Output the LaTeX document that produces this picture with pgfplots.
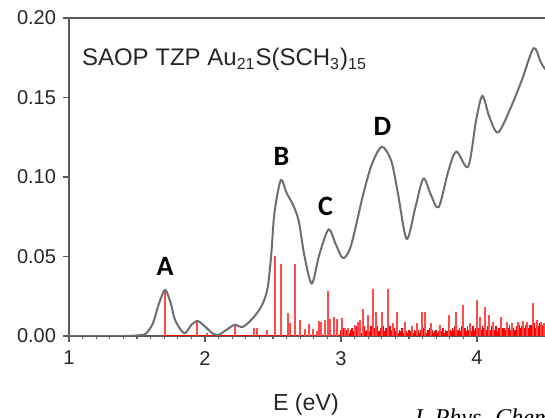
\documentclass[border=0pt]{standalone}
\usepackage{fontspec}
\setmainfont{Liberation Sans}
\newfontfamily\peakfont{Carlito}
\newfontfamily\citefont{Liberation Serif}
\usepackage{pgfplots}
\usepackage{pgfplotstable}
\pgfplotsset{compat=1.18}
\usetikzlibrary{calc}

\definecolor{curvegray}{RGB}{110,110,110}
\definecolor{axisgray}{RGB}{90,90,90}
\definecolor{stickred}{RGB}{255,75,75}

% broadened spectrum
\pgfplotstableread{
E I
1.00 0
1.40 0
1.52 0.0005
1.566 0.0015
1.617 0.008
1.66 0.020
1.707 0.029
1.75 0.020
1.78 0.010
1.847 0.0017
1.90 0.007
1.944 0.0095
2.00 0.006
2.05 0.002
2.097 0.0006
2.16 0.004
2.218 0.007
2.28 0.0058
2.36 0.012
2.42 0.0196
2.46 0.030
2.487 0.051
2.51 0.077
2.557 0.098
2.60 0.090
2.65 0.082
2.69 0.072
2.73 0.051
2.785 0.033
2.84 0.051
2.908 0.067
2.96 0.058
3.015 0.049
3.074 0.057
3.163 0.089
3.227 0.108
3.30 0.119
3.37 0.110
3.42 0.089
3.483 0.061
3.547 0.081
3.606 0.099
3.66 0.089
3.718 0.081
3.79 0.104
3.848 0.116
3.935 0.1065
3.994 0.136
4.04 0.151
4.09 0.138
4.155 0.128
4.25 0.144
4.33 0.161
4.416 0.181
4.467 0.1726
4.50 0.168
4.55 0.166
}\curve

% strong oscillator strengths
\pgfplotstableread{
E f
1.707 0.029
1.944 0.0095
2.015 0.002
2.218 0.007
2.358 0.005
2.385 0.005
2.454 0.004
2.515 0.050
2.560 0.045
2.610 0.0143
2.625 0.008
2.664 0.045
2.700 0.010
2.735 0.0045
2.767 0.0074
2.797 0.0045
2.820 0.003
2.840 0.0095
2.856 0.009
2.880 0.010
2.902 0.028
2.920 0.011
2.950 0.0117
2.968 0.011
3.005 0.0116
3.030 0.005
3.055 0.005
3.100 0.007
3.125 0.009
3.140 0.010
3.164 0.017
3.200 0.013
3.238 0.0295
3.260 0.0154
3.300 0.0148
3.343 0.0295
3.380 0.008
3.410 0.0154
3.470 0.009
3.520 0.006
3.560 0.008
3.593 0.0154
3.617 0.0154
3.660 0.008
3.730 0.007
3.794 0.0129
3.846 0.0148
3.895 0.0196
3.950 0.008
4.002 0.0228
4.020 0.012
4.059 0.018
4.090 0.013
4.120 0.009
4.175 0.0118
4.220 0.009
4.260 0.008
4.300 0.009
4.340 0.0095
4.370 0.009
4.410 0.021
4.440 0.010
4.470 0.009
4.490 0.008
}\sticks

% dense weak transitions
\pgfplotstableread{
E f
3.00 0.004
3.01 0.003
3.02 0.005
3.03 0.002
3.04 0.004
3.05 0.003
3.06 0.002
3.07 0.004
3.08 0.005
3.09 0.003
3.10 0.004
3.11 0.006
3.12 0.003
3.13 0.005
3.14 0.004
3.15 0.002
3.16 0.005
3.17 0.006
3.18 0.003
3.19 0.004
3.20 0.005
3.21 0.003
3.22 0.006
3.23 0.004
3.24 0.002
3.25 0.005
3.26 0.004
3.27 0.006
3.28 0.003
3.29 0.005
3.30 0.004
3.31 0.006
3.32 0.003
3.33 0.005
3.34 0.004
3.35 0.003
3.36 0.006
3.37 0.004
3.38 0.002
3.39 0.005
3.40 0.003
3.41 0.005
3.42 0.002
3.43 0.004
3.44 0.003
3.45 0.005
3.46 0.002
3.47 0.004
3.48 0.003
3.49 0.002
3.50 0.004
3.51 0.003
3.52 0.005
3.53 0.002
3.54 0.004
3.55 0.003
3.56 0.005
3.57 0.004
3.58 0.002
3.59 0.004
3.60 0.003
3.61 0.005
3.62 0.004
3.63 0.002
3.64 0.004
3.65 0.005
3.66 0.003
3.67 0.004
3.68 0.002
3.69 0.003
3.70 0.004
3.71 0.002
3.72 0.003
3.73 0.004
3.74 0.003
3.75 0.005
3.76 0.002
3.77 0.004
3.78 0.003
3.79 0.005
3.80 0.004
3.81 0.003
3.82 0.005
3.83 0.004
3.84 0.006
3.85 0.003
3.86 0.004
3.87 0.005
3.88 0.003
3.89 0.006
3.90 0.004
3.91 0.005
3.92 0.003
3.93 0.006
3.94 0.004
3.95 0.005
3.96 0.003
3.97 0.006
3.98 0.004
3.99 0.005
4.00 0.006
4.01 0.005
4.02 0.007
4.03 0.004
4.04 0.006
4.05 0.005
4.06 0.007
4.07 0.004
4.08 0.006
4.09 0.005
4.10 0.004
4.11 0.006
4.12 0.005
4.13 0.004
4.14 0.006
4.15 0.003
4.16 0.005
4.17 0.004
4.18 0.006
4.19 0.005
4.20 0.005
4.21 0.004
4.22 0.006
4.23 0.005
4.24 0.007
4.25 0.004
4.26 0.006
4.27 0.005
4.28 0.004
4.29 0.006
4.30 0.006
4.31 0.007
4.32 0.005
4.33 0.006
4.34 0.008
4.35 0.005
4.36 0.007
4.37 0.006
4.38 0.005
4.39 0.007
4.40 0.007
4.41 0.006
4.42 0.008
4.43 0.005
4.44 0.007
4.45 0.006
4.46 0.008
4.47 0.006
4.48 0.007
4.49 0.006
4.50 0.007
4.51 0.006
4.52 0.008
4.53 0.006
4.54 0.007
4.55 0.006
}\forest

\begin{document}
\begin{tikzpicture}
\begin{axis}[
    scale only axis,
    width=241.4pt, height=159pt,
    xmin=1, xmax=4.55,
    ymin=0, ymax=0.2,
    xtick={1,2,3,4},
    minor x tick num=9,
    ytick={0,0.05,0.1,0.15,0.2},
    xtick pos=bottom, ytick pos=left,
    tick align=outside,
    major tick length=3pt, minor tick length=1.6pt,
    tick style={axisgray, line width=0.6pt},
    axis line style={axisgray, line width=0.7pt},
    /pgf/number format/assume math mode=true,
    yticklabel style={/pgf/number format/.cd, fixed, fixed zerofill, precision=2},
    tick label style={font=\fontsize{10}{12}\selectfont, text=black!85},
    xticklabel style={yshift=-1pt},
]
\addplot[red, line width=0.6pt, forget plot] coordinates {(1.707,0) (4.55,0)};
\addplot[ycomb, red, line width=0.75pt, no markers] table[x=E, y=f] {\forest};
\addplot[ycomb, stickred, line width=1pt, no markers] table[x=E, y=f] {\sticks};
\addplot[curvegray, line width=1pt, smooth, no markers] table[x=E, y=I] {\curve};

\node[anchor=base west, inner sep=0pt, font=\fontsize{12}{14}\selectfont, text=black!85]
    at (axis cs:1.093,0.170) {SAOP TZP Au\textsubscript{21}S(SCH\textsubscript{3})\textsubscript{15}};
\node[font=\fontsize{14}{16}\peakfont\bfseries] at (axis cs:1.707,0.0436) {A};
\node[font=\fontsize{14}{16}\peakfont\bfseries] at (axis cs:2.563,0.1128) {B};
\node[font=\fontsize{14}{16}\peakfont\bfseries] at (axis cs:2.887,0.0813) {C};
\node[font=\fontsize{14}{16}\peakfont\bfseries] at (axis cs:3.304,0.1316) {D};

\coordinate (bl) at (axis cs:1,0);
\coordinate (tr) at (axis cs:4.5,0.2);
\coordinate (xl) at (axis cs:2.742,0);
\coordinate (jp) at (axis cs:3.52,0);
\end{axis}
\node[font=\fontsize{11.6}{13}\selectfont, text=black!85] at ($(xl)+(0,-34.4pt)$) {E (eV)};
\node[anchor=north west, inner sep=0pt, font=\fontsize{12}{14}\citefont\itshape]
    at ($(jp)+(0,-36pt)$) {J. Phys. Chem};
\pgfresetboundingbox
\path[use as bounding box] ($(bl)+(-34.5pt,-40.5pt)$) rectangle ($(tr)+(0,9pt)$);
\end{tikzpicture}
\end{document}
